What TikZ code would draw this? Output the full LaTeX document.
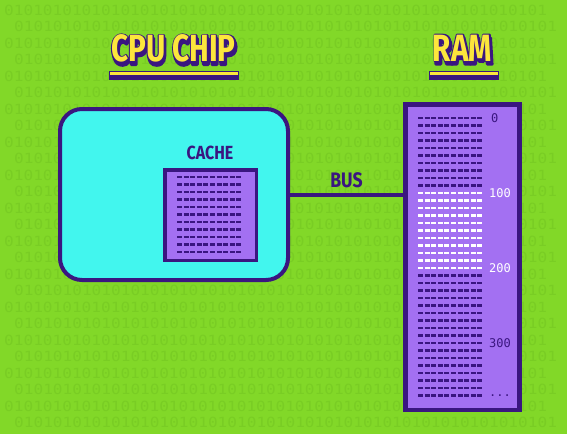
\documentclass[tikz,border=0pt]{standalone}
\usepackage{fontspec}
\usepackage{tikz}
\usetikzlibrary{positioning,calc}
\usepackage{xcolor}

\newfontfamily\titlefont[FakeStretch=0.78]{Fira Sans}
\newfontfamily\labelfont[FakeStretch=0.84]{Fira Sans}
\newfontfamily\addrfont{DejaVu Sans Mono}
\newfontfamily\bitfont[FakeStretch=1.15]{DejaVu Sans Mono}

\definecolor{bggreen}{RGB}{130,216,40}
\definecolor{bitgreen}{RGB}{121,205,36}
\definecolor{chipcyan}{RGB}{66,246,238}
\definecolor{ramviolet}{RGB}{163,112,242}
\definecolor{deepviolet}{RGB}{58,22,128}
\definecolor{titleyellow}{RGB}{252,230,60}

\def\bitrow{01010101010101010101010101010101010101010101010101010101}

% stroked glyphs (fill + outline) for the titles
\newcommand\strokedtext[2]{%
  \special{pdf:literal direct #1 w 1 j 2 Tr}#2%
  \special{pdf:literal direct 0 Tr}}
% title text: shadow, outline, then yellow fill on top
\newcommand\outlinetitle[3]{%
  \node[titletext, text=deepviolet] at ($(#2)+(1,3)$) {\strokedtext{3}{#3}};
  \node[titletext, text=deepviolet] at (#2) {\strokedtext{2.6}{#3}};
  \node[titletext, text=titleyellow] (#1) at (#2) {#3};
}

\begin{document}
\begin{tikzpicture}[x=1pt, y=-1pt,
    bits/.style={anchor=west, inner sep=0, text=bitgreen,
      font=\bitfont\fontsize{14}{14}\selectfont},
    titletext/.style={inner sep=0, font=\titlefont\bfseries\fontsize{38}{38}\selectfont},
    partlabel/.style={inner sep=0, text=deepviolet,
      font=\labelfont\bfseries\fontsize{19}{19}\selectfont},
    cpubox/.style={draw=deepviolet, line width=4pt, fill=chipcyan,
      rounded corners=22pt, minimum width=228pt, minimum height=171pt},
    cachebox/.style={draw=deepviolet, line width=3.5pt, fill=ramviolet,
      minimum width=91.5pt, minimum height=90.5pt},
    rambox/.style={draw=deepviolet, line width=4.5pt, fill=ramviolet,
      minimum width=114pt, minimum height=305.5pt},
    cell/.style={line width=2.4pt, dash pattern=on 5pt off 1.6pt},
    addr/.style={anchor=west, inner sep=0,
      font=\addrfont\fontsize{12}{12}\selectfont},
    bus/.style={draw=deepviolet, line width=4pt}]

    % Background
    \useasboundingbox[fill=bggreen] (0,0) rectangle (567,434);
    \foreach \r in {0,...,25}
        \node[bits] (bits\r) at ({4+mod(\r,2)*10}, {10+16.5*\r}) {\bitrow};

    % Titles
    \outlinetitle{cputitle}{173.5,48.5}{CPU CHIP}
    \outlinetitle{ramtitle}{462.5,48}{RAM}
    \fill[deepviolet] (109,71) rectangle (239,79.5);
    \fill[titleyellow] (110,72) rectangle (238,75);
    \fill[deepviolet] (429,71) rectangle (499,79.5);
    \fill[titleyellow] (430,72) rectangle (498,75);

    % CPU chip with cache
    \node[cpubox] (cpu) at (174,194.5) {};
    \node[cachebox] (cache) at (210.5,215) {};
    \node[partlabel] (cachelabel) at (210,153) {CACHE};
    \foreach \i in {0,...,10}
        \draw[cell, deepviolet] (177,{177+7.5*\i}) -- (242.3,{177+7.5*\i});

    % RAM
    \node[rambox] (ram) at (462.25,257) {};
    \foreach \i in {0,...,37} {
        \ifnum\i<10 \def\cellcol{deepviolet}\else
          \ifnum\i>20 \def\cellcol{deepviolet}\else \def\cellcol{white}\fi\fi
        \draw[cell, \cellcol] (418,{118+7.5*\i}) -- (482.4,{118+7.5*\i});
    }
    \node[addr, text=deepviolet] (addr0) at (491,118) {0};
    \node[addr, text=white] (addr100) at (489,193) {100};
    \node[addr, text=white] (addr200) at (489,268) {200};
    \node[addr, text=deepviolet] (addr300) at (489,343) {300};
    \node[addr, text=deepviolet] (addrmore) at (489,395.5) {...};

    % Bus
    \draw[bus] (cpu.east) -- (cpu.east -| ram.west);
    \node[partlabel, font=\labelfont\bfseries\fontsize{21}{21}\selectfont]
        (buslabel) at (346.5,180) {BUS};
\end{tikzpicture}
\end{document}
